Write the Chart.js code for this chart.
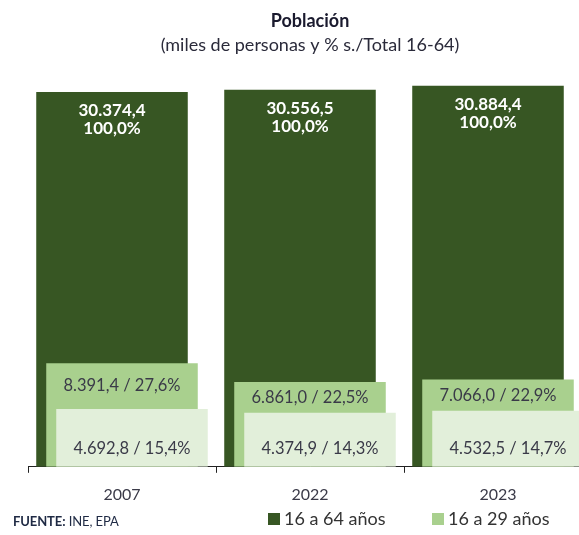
<!DOCTYPE html>
<html lang="es">
<head>
  <meta charset="UTF-8">
  <title>Población</title>
  <script src="https://cdn.jsdelivr.net/npm/chart.js"></script>
  <style>
    html, body { margin: 0; padding: 0; background: #fff; overflow: hidden; }
    #wrap { position: relative; width: 592px; height: 535px; }
    #fuente {
      position: absolute; left: 13px; top: 513px;
      font: 13px Lato, sans-serif; color: #1f2a44; letter-spacing: -0.1px;
    }
    #fuente b { font-weight: 700; }
    #leyenda { position: absolute; left: 268px; top: 507px; font: 18px Lato, sans-serif; color: #333; }
    #leyenda span.item { position: absolute; white-space: nowrap; }
    #leyenda i { display: inline-block; width: 12px; height: 12px; margin-right: 4px; vertical-align: 0px; }
  </style>
</head>
<body>
  <div id="wrap">
    <canvas id="grafico"></canvas>
    <div id="fuente"><b>FUENTE:</b> INE, EPA</div>
    <div id="leyenda"></div>
  </div>

  <script>
    // datos
    const years = ['2007', '2022', '2023'];
    const seriesNames = ['16 a 64 años', '16 a 29 años', '16 a 24 años'];
    const pob1664 = [30374.4, 30556.5, 30884.4];
    const pob1629 = [8391.4, 6861.0, 7066.0];
    const pob1624 = [4692.8, 4374.9, 4532.5];
    const pct1664 = ['100,0%', '100,0%', '100,0%'];
    const pct1629 = ['27,6%', '22,5%', '22,9%'];
    const pct1624 = ['15,4%', '14,3%', '14,7%'];

    const colores = ['#375623', '#a9d08e', '#e2efda'];
    const fmt = v => v.toLocaleString('de-DE', { minimumFractionDigits: 1, maximumFractionDigits: 1 });

    // desplaza cada serie unos pixeles a la derecha
    const desplazar = {
      id: 'desplazar',
      afterDatasetsUpdate(chart) {
        chart.data.datasets.forEach((ds, i) => {
          chart.getDatasetMeta(i).data.forEach(bar => { bar.x += ds.shiftX; });
        });
      }
    };

    // etiquetas de valor
    const etiquetas = {
      id: 'etiquetas',
      afterDatasetsDraw(chart) {
        const ctx = chart.ctx;
        const m0 = chart.getDatasetMeta(0).data;
        const m1 = chart.getDatasetMeta(1).data;
        const m2 = chart.getDatasetMeta(2).data;
        ctx.save();
        ctx.textAlign = 'center';
        ctx.textBaseline = 'middle';
        years.forEach((y, i) => {
          ctx.fillStyle = '#ffffff';
          ctx.font = 'bold 17px Lato, sans-serif';
          ctx.fillText(fmt(pob1664[i]), m0[i].x, m0[i].y + 19);
          ctx.fillText(pct1664[i], m0[i].x, m0[i].y + 37);

          ctx.fillStyle = '#3a3a48';
          ctx.font = '16.5px Lato, sans-serif';
          ctx.fillText(fmt(pob1629[i]) + ' / ' + pct1629[i], m1[i].x, (m1[i].y + m2[i].y) / 2);
          ctx.fillText(fmt(pob1624[i]) + ' / ' + pct1624[i], m2[i].x, m2[i].base - 18);
        });
        ctx.restore();
      }
    };

    const config = {
      type: 'bar',
      data: {
        labels: years,
        datasets: [
          { label: seriesNames[0], data: pob1664, backgroundColor: colores[0], order: 3, shiftX: -10 },
          { label: seriesNames[1], data: pob1629, backgroundColor: colores[1], order: 2, shiftX: 0 },
          { label: seriesNames[2], data: pob1624, backgroundColor: colores[2], order: 1, shiftX: 10 }
        ]
      },
      options: {
        responsive: true,
        maintainAspectRatio: false,
        animation: false,
        grouped: false,
        categoryPercentage: 1,
        barPercentage: 0.806,
        layout: { padding: { left: 28, right: 0, top: 0, bottom: 19 } },
        plugins: {
          legend: { display: false },
          tooltip: { enabled: false },
          title: {
            display: true,
            fullSize: false,
            text: 'Población',
            color: '#1a1a2e',
            font: { family: 'Lato', size: 18, weight: 'bold' },
            padding: { top: 10, bottom: 3 }
          },
          subtitle: {
            display: true,
            fullSize: false,
            text: '(miles de personas y % s./Total 16-64)',
            color: '#2a2a3a',
            font: { family: 'Lato', size: 18 },
            padding: { top: 0, bottom: 28 }
          }
        },
        scales: {
          x: {
            grid: { display: true, drawOnChartArea: false, tickLength: 6, color: '#222', lineWidth: 1 },
            border: { display: true, color: '#222', width: 1 },
            ticks: { color: '#3a3a48', padding: 12, font: { family: 'Lato', size: 16 } }
          },
          y: { display: false, min: 0, max: 31000 }
        }
      },
      plugins: [desplazar, etiquetas]
    };

    const ctx = document.getElementById('grafico').getContext('2d');
    const chart = new Chart(ctx, config);

    // leyenda (solo las dos primeras series, como en el original)
    const leyenda = document.getElementById('leyenda');
    [0, 1].forEach((d, k) => {
      const s = document.createElement('span');
      s.className = 'item';
      s.style.left = (k * 164) + 'px';
      s.innerHTML = '<i style="background:' + colores[d] + '"></i>' + seriesNames[d];
      leyenda.appendChild(s);
    });
  </script>
</body>
</html>
